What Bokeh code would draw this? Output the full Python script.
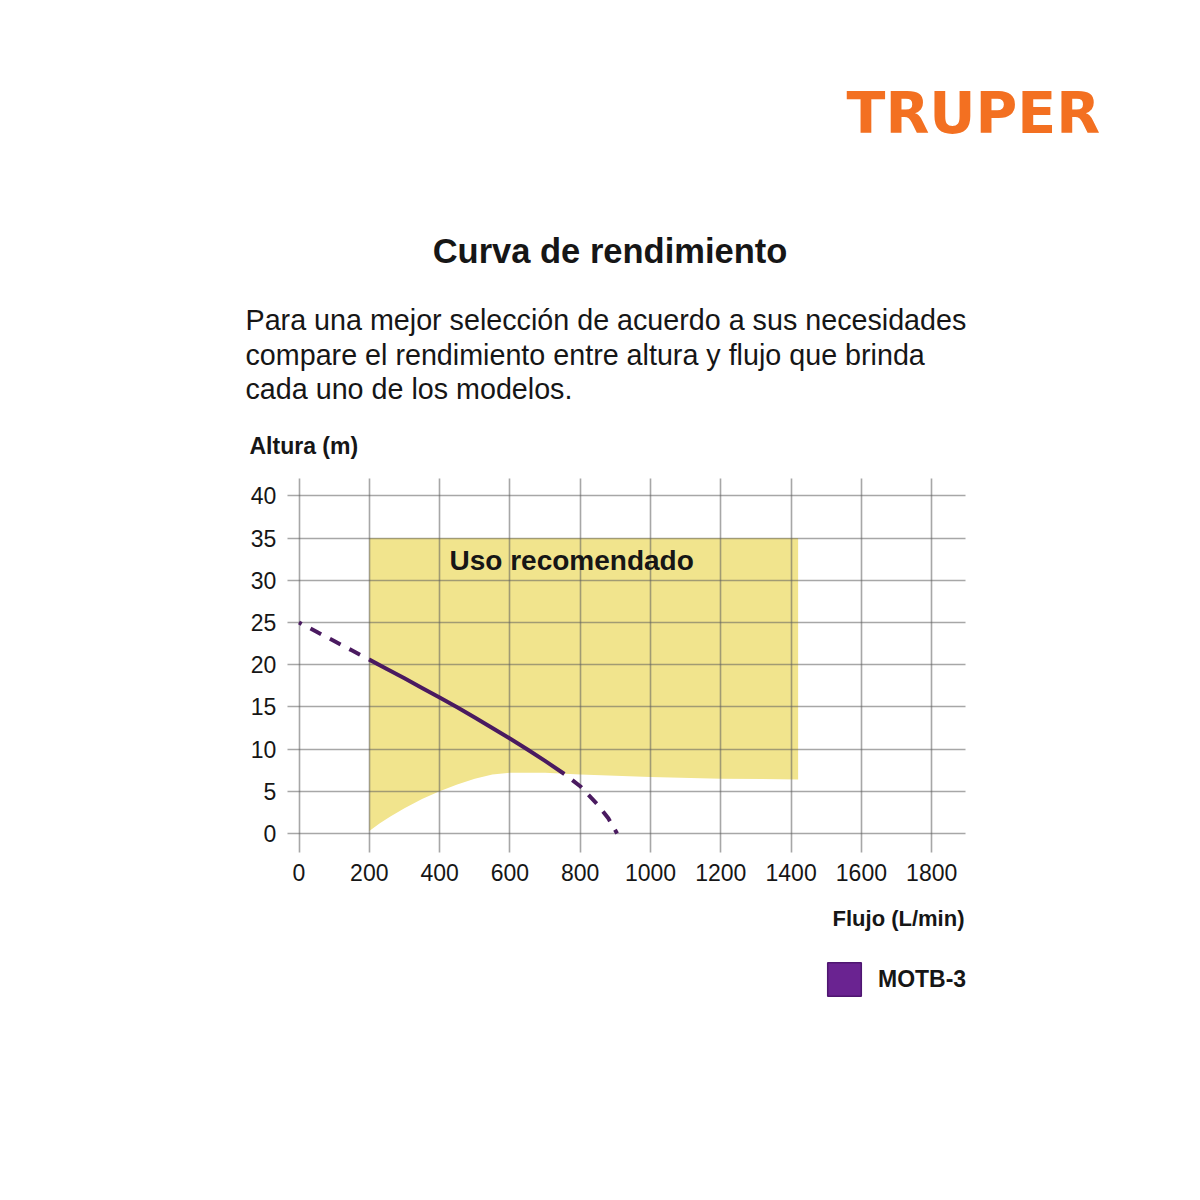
from bokeh.plotting import figure
from bokeh.models import Range1d, FixedTicker, Label, Legend, LegendItem
from bokeh.embed import file_html
from bokeh.resources import INLINE

# ---------------- data ----------------
x_ticks = [0, 200, 400, 600, 800, 1000, 1200, 1400, 1600, 1800]
y_ticks = [0, 5, 10, 15, 20, 25, 30, 35, 40]

# MOTB-3 performance curve (flow L/min, head m)
flow = [0, 50, 100, 150, 200, 250, 300, 350, 400, 450, 500, 550, 600, 650, 700,
        755, 800, 850, 880, 905]
head = [25.0, 23.9, 22.8, 21.7, 20.6, 19.5, 18.4, 17.25, 16.1, 14.95, 13.75, 12.5,
        11.25, 9.95, 8.6, 7.05, 5.6, 3.4, 1.8, 0.0]
solid_from, solid_to = 4, 15  # indices bounding the solid (recommended) part

# Recommended-use zone
zone_flow = [200, 230, 260, 300, 350, 400, 450, 500, 550, 600, 700, 800, 1000, 1200, 1420]
zone_low = [0.3, 1.2, 2.0, 3.0, 4.1, 5.0, 5.8, 6.5, 7.0, 7.2, 7.2, 7.0, 6.7, 6.5, 6.4]
zone_top = 35

series_name = "MOTB-3"

# ---------------- layout constants ----------------
PX0, SX = 298.5, 0.3515      # canvas x of flow 0, px per L/min
PY0, SY = 833.0, 8.44        # canvas y of head 0, px per m
W = H = 1192
BL, BR, BT, BB = 60, 10, 10, 60
GRID_X = (-33, 1896)         # extent of horizontal grid lines
GRID_Y = (-2.25, 42.06)      # extent of vertical grid lines

FONT = "'Liberation Sans', Arial, sans-serif"
LOGO_FONT = "'DejaVu Sans', 'Liberation Sans', sans-serif"
PURPLE_LINE = "#4a1a60"
PURPLE_FILL = "#6a2391"
YELLOW = "#f1e48d"
TEXT = "#161616"

x_range = Range1d((BL - PX0) / SX, (W - BR - PX0) / SX)
y_range = Range1d((PY0 - (H - BB)) / SY, (PY0 - BT) / SY)

p = figure(
    frame_width=W - BL - BR, frame_height=H - BT - BB,
    min_border_left=BL, min_border_right=BR,
    min_border_top=BT, min_border_bottom=BB,
    x_range=x_range, y_range=y_range,
    output_backend="svg", toolbar_location=None, tools="",
)
p.outline_line_color = None
p.background_fill_color = "white"
p.border_fill_color = "white"

# zone (drawn below the grid)
p.varea(x=zone_flow, y1=zone_low, y2=[zone_top] * len(zone_flow),
        fill_color=YELLOW, level="image")

# grid
grid_ok = True
try:
    p.xgrid.cross_bounds = GRID_Y
    p.ygrid.cross_bounds = GRID_X
except Exception:
    grid_ok = False

if grid_ok:
    for g, t in ((p.xgrid, x_ticks), (p.ygrid, y_ticks)):
        g.ticker = FixedTicker(ticks=t)
        g.grid_line_color = "#5f5f5f"
        g.grid_line_alpha = 0.55
        g.grid_line_width = 1.6
else:
    p.xgrid.visible = False
    p.ygrid.visible = False
    p.segment(x0=x_ticks, x1=x_ticks, y0=[GRID_Y[0]] * len(x_ticks),
              y1=[GRID_Y[1]] * len(x_ticks), line_color="#5f5f5f",
              line_alpha=0.55, line_width=1.6, level="underlay")
    p.segment(x0=[GRID_X[0]] * len(y_ticks), x1=[GRID_X[1]] * len(y_ticks),
              y0=y_ticks, y1=y_ticks, line_color="#5f5f5f",
              line_alpha=0.55, line_width=1.6, level="underlay")

# curve
p.line(flow[:solid_from + 1], head[:solid_from + 1], line_color=PURPLE_LINE,
       line_width=4, line_dash="12 10", line_dash_offset=9)
p.line(flow[solid_from:solid_to + 1], head[solid_from:solid_to + 1],
       line_color=PURPLE_LINE, line_width=4, line_join="round")
p.line(flow[solid_to:], head[solid_to:], line_color=PURPLE_LINE,
       line_width=4, line_dash="12 10", line_dash_offset=12)

# axes, drawn at the grid's edges
p.yaxis.fixed_location = GRID_X[0]
p.xaxis.fixed_location = GRID_Y[0]
for ax, t, so in ((p.xaxis, x_ticks, 12), (p.yaxis, y_ticks, 11)):
    ax.ticker = FixedTicker(ticks=t)
    ax.axis_line_color = None
    ax.major_tick_line_color = None
    ax.minor_tick_line_color = None
    ax.major_tick_out = 0
    ax.major_tick_in = 0
    ax.major_label_text_font = FONT
    ax.major_label_text_font_size = "23px"
    ax.major_label_text_color = TEXT
    ax.major_label_standoff = so

def fx(px):
    return (px - PX0) / SX

def fy(py):
    return (PY0 - py) / SY

def label(px, py, text, size, bold=False, align="left", color=TEXT, font=FONT):
    # py is the wanted baseline; the renderer sits text ~0.4 em lower
    p.add_layout(Label(x=fx(px), y=fy(py - 0.4 * size), text=text, text_font=font,
                       text_font_size=f"{size}px",
                       text_font_style="bold" if bold else "normal",
                       text_align=align, text_baseline="alphabetic",
                       text_color=color))

label(846, 135, "TRUPER", 57, bold=True, color="#f37021", font=LOGO_FONT)
label(609.5, 264, "Curva de rendimiento", 34.5, bold=True, align="center")
label(245, 331, "Para una mejor selección de acuerdo a sus necesidades", 28.7)
label(245, 366, "compare el rendimiento entre altura y flujo que brinda", 28.7)
label(245, 400, "cada uno de los modelos.", 28.7)
label(249, 455, "Altura (m)", 23, bold=True)
label(449, 571, "Uso recomendado", 28, bold=True)
label(964, 927, "Flujo (L/min)", 22, bold=True, align="right")

# legend (swatch renderer is a single quad outside the visible range)
swatch = p.quad(left=[-5000], right=[-4990], bottom=[-500], top=[-490],
                fill_color=PURPLE_FILL, line_color="#4e1670", line_width=1.5)
legend = Legend(items=[LegendItem(label=series_name, renderers=[swatch])],
                location=(823 - BL, (H - BB) - 1000), padding=0, margin=0, spacing=0,
                glyph_width=42, glyph_height=42, label_standoff=13,
                label_text_font=FONT, label_text_font_size="23px",
                label_text_font_style="bold", label_text_color=TEXT,
                border_line_color=None, background_fill_alpha=0)
p.add_layout(legend)

open("out.html", "w").write(file_html(p, INLINE))
